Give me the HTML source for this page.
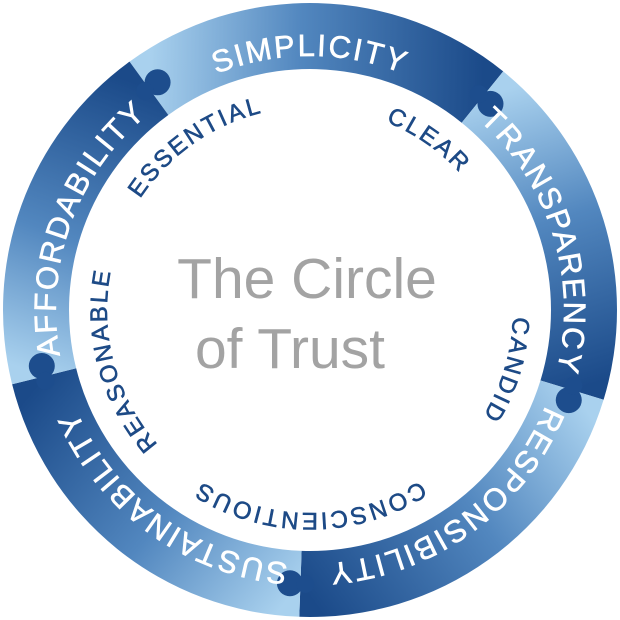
<!DOCTYPE html>
<html><head><meta charset="utf-8"><style>
html,body{margin:0;padding:0;background:#fff;}
svg{display:block;}
.o{font-family:"Liberation Sans",sans-serif;font-size:31px;fill:#fff;stroke:#fff;stroke-width:0.6px;letter-spacing:2px;}
.i{font-family:"Liberation Sans",sans-serif;font-size:24px;fill:#1d4a86;stroke:#1d4a86;stroke-width:0.6px;letter-spacing:2.5px;}
.c{font-family:"Liberation Sans",sans-serif;font-size:57px;fill:#a3a3a3;}
</style></head><body>
<svg id="sv" width="620" height="620" viewBox="0 0 620 620" xmlns="http://www.w3.org/2000/svg">
<defs id="df">
<path id="po" d="M310,564 A254,254 0 1 1 310,56 A254,254 0 1 1 310,564"/>
<path id="pi" d="M310,513 A203,203 0 1 1 310,107 A203,203 0 1 1 310,513"/>
</defs>
<g id="ring"></g>
<g transform="rotate(0 310 310)"><text class="o" text-anchor="middle"><textPath href="#po" startOffset="50%">SIMPLICITY</textPath></text></g>
<g transform="rotate(73 310 310)"><text class="o" text-anchor="middle"><textPath href="#po" startOffset="50%">TRANSPARENCY</textPath></text></g>
<g transform="rotate(144 310 310)"><text class="o" text-anchor="middle"><textPath href="#po" startOffset="50%">RESPONSIBILITY</textPath></text></g>
<g transform="rotate(216 310 310)"><text class="o" text-anchor="middle"><textPath href="#po" startOffset="50%">SUSTAINABILITY</textPath></text></g>
<g transform="rotate(290 310 310)"><text class="o" text-anchor="middle"><textPath href="#po" startOffset="50%">AFFORDABILITY</textPath></text></g>
<g transform="rotate(325 310 310)"><text class="i" text-anchor="middle"><textPath href="#pi" startOffset="50%">ESSENTIAL</textPath></text></g>
<g transform="rotate(35 310 310)"><text class="i" text-anchor="middle"><textPath href="#pi" startOffset="50%">CLEAR</textPath></text></g>
<g transform="rotate(107 310 310)"><text class="i" text-anchor="middle"><textPath href="#pi" startOffset="50%">CANDID</textPath></text></g>
<g transform="rotate(180 310 310)"><text class="i" text-anchor="middle"><textPath href="#pi" startOffset="50%">CONSCIENTIOUS</textPath></text></g>
<g transform="rotate(255 310 310)"><text class="i" text-anchor="middle"><textPath href="#pi" startOffset="50%">REASONABLE</textPath></text></g>
<text class="c" x="307" y="298" text-anchor="middle">The Circle</text>
<text class="c" x="290" y="368" text-anchor="middle">of Trust</text>
</svg>
<script>
(function(){
var ns="http://www.w3.org/2000/svg",g=document.getElementById("ring"),cx=310,cy=310,R=307,r=241;
var b=[-36,39,107,182,256,324];
function pt(a,rad){a=a*Math.PI/180;return [(cx+rad*Math.sin(a)).toFixed(2),(cy-rad*Math.cos(a)).toFixed(2)];}
var defs=document.getElementById("df");
function el(n,at){var e=document.createElementNS(ns,n);for(var k in at)e.setAttribute(k,at[k]);return e;}
for(var k=0;k<5;k++){
 var a0=b[k],a1=b[k+1];
 var s=pt(a0,274),e=pt(a1,274);
 var lg=el("linearGradient",{id:"pg"+k,gradientUnits:"userSpaceOnUse",x1:s[0],y1:s[1],x2:e[0],y2:e[1]});
 lg.appendChild(el("stop",{offset:"0","stop-color":"#a9d1ee"}));
 lg.appendChild(el("stop",{offset:"0.45","stop-color":"#5287bf"}));
 lg.appendChild(el("stop",{offset:"1","stop-color":"#1b4a89"}));
 defs.appendChild(lg);
 var p1=pt(a0,R),p2=pt(a1,R),p3=pt(a1,r),p4=pt(a0,r);
 var d="M"+p1.join(",")+" A"+R+","+R+" 0 0 1 "+p2.join(",")+" L"+p3.join(",")+" A"+r+","+r+" 0 0 0 "+p4.join(",")+" Z";
 g.appendChild(el("path",{d:d,fill:"url(#pg"+k+")"}));
}
for(var k=1;k<=5;k++){
 var a=b[k],c=pt(a+2.2,274),c2=pt(a-1,274);
 g.appendChild(el("circle",{cx:c[0],cy:c[1],r:13,fill:"#1d4d8d"}));
 g.appendChild(el("circle",{cx:c2[0],cy:c2[1],r:9,fill:"#1d4d8d"}));
}
})();
</script>
</body></html>
